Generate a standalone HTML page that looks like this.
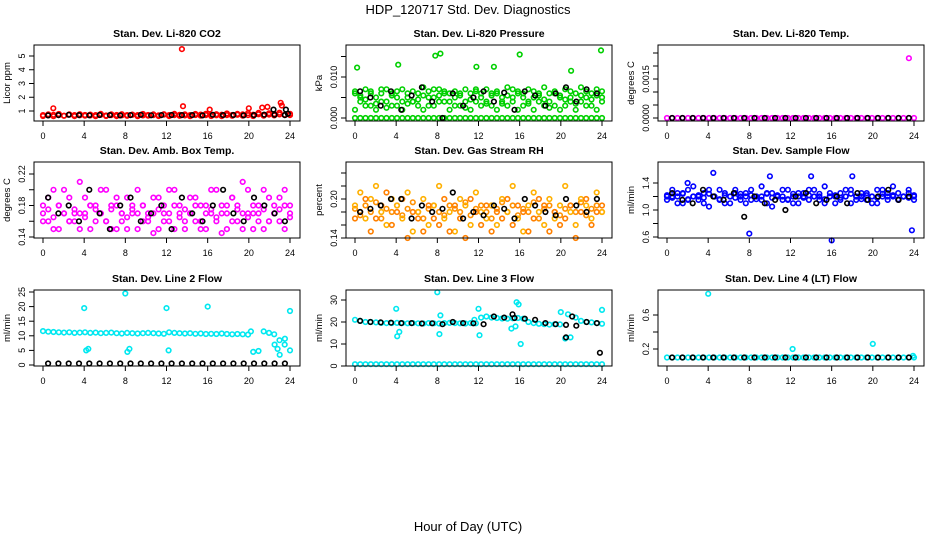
<!DOCTYPE html>
<html><head><meta charset="utf-8"><style>
body{margin:0;background:#fff;}
svg{display:block;font-family:"Liberation Sans",sans-serif;}
</style></head><body>
<svg id="c" width="936" height="540">
<text x="468" y="14" text-anchor="middle" font-size="13">HDP_120717  Std. Dev. Diagnostics</text>
<text x="468" y="531" text-anchor="middle" font-size="13">Hour of Day (UTC)</text>
</svg>
<script>
// ---- data ----
const xTicks=[0,4,8,12,16,20,24];
// P1 CO2
const co2Red=[0.7,0.68,0.72,0.7,0.66,0.73,0.7,0.69,0.71,0.68,0.7,0.72,0.67,0.7,0.71,0.69,0.7,0.72,0.7,0.68,0.71,0.7,0.69,0.73,0.7,0.7,0.72,0.68,0.7,0.71,0.74,0.7,0.72,0.69,0.73,0.7,0.71,0.72,0.75,0.7,0.73,0.76,0.72,0.74,0.78,0.75,0.72,0.7];
const co2Red2=[0.64,0.76,0.62,0.78,0.65,0.75,0.63,0.77,0.66,0.74,0.62,0.79,0.64,0.76,0.63,0.77,0.65,0.74,0.62,0.78,0.66,0.75,0.64,0.77,0.63,0.79,0.65,0.76,0.62,0.78,0.66,0.8,0.64,0.77,0.63,0.82,0.65,0.79,0.66,0.84,0.64,0.86,0.66,0.83,0.68,0.88,0.7,0.8];
const co2RedOutH=[1,13.5,13.6,16.2,20,21.3,21.8,23.1,23.2];
const co2RedOutV=[1.2,5.5,1.35,1.1,1.2,1.25,1.3,1.6,1.4];
const co2Black=[0.68,0.7,0.72,0.7,0.69,0.71,0.7,0.68,0.7,0.72,0.69,0.7,0.71,0.7,0.7,0.68,0.72,0.7,0.71,0.69,0.7,0.73,0.72,0.7];
const co2BlackOutH=[22.4,23.6,23.8];
const co2BlackOutV=[1.1,1.1,0.8];
// P2 pressure
const presA=[0.006,0.004,0.007,0.003,0.005,0.007,0.004,0.006,0.003,0.007,0.005,0.004,0.006,0.0075,0.003,0.005,0.007,0.004,0.006,0.005,0.003,0.007,0.006,0.004,0.005,0.007,0.003,0.006,0.004,0.0075,0.005,0.006,0.003,0.007,0.005,0.004,0.0075,0.006,0.003,0.005,0.007,0.004,0.006,0.0075,0.005,0.003,0.007,0.005];
const presB=[0.002,0.005,0.003,0.006,0.002,0.004,0.007,0.003,0.005,0.002,0.006,0.004,0.003,0.002,0.005,0.007,0.004,0.006,0.002,0.003,0.006,0.004,0.002,0.007,0.003,0.004,0.006,0.002,0.005,0.003,0.007,0.002,0.005,0.004,0.002,0.006,0.003,0.004,0.006,0.002,0.003,0.005,0.002,0.004,0.003,0.006,0.002,0.004];
const presC=[0.0065,0.0055,0.0045,0.0065,0.0035,0.006,0.0025,0.0055,0.0065,0.004,0.0035,0.0065,0.0045,0.0055,0.0065,0.003,0.0055,0.0065,0.004,0.0065,0.0055,0.0025,0.0045,0.0065,0.006,0.0035,0.0055,0.0065,0.0035,0.0055,0.004,0.0065,0.006,0.0035,0.0065,0.0055,0.0045,0.0025,0.0065,0.0055,0.0045,0.0065,0.0035,0.0055,0.0065,0.0045,0.0055,0.0065];
const presZero=[0,0,0,0,0,0,0,0,0,0,0,0,0,0,0,0,0,0,0,0,0,0,0,0,0,0,0,0,0,0,0,0,0,0,0,0,0,0,0,0,0,0,0,0,0,0,0,0];
const presOutH=[0.2,4.2,7.8,8.3,11.8,13.5,16,21,23.9];
const presOutV=[0.0123,0.013,0.0152,0.0157,0.0125,0.0125,0.0155,0.0115,0.0165];
const presBlack=[0.0065,0.005,0.003,0.0065,0.002,0.0055,0.0075,0.004,0,0.006,0.003,0.005,0.0065,0.004,0.0062,0.002,0.0065,0.0055,0.003,0.006,0.0075,0.004,0.007,0.006];
// P3 temp
const tempMag=[0,0,0,0,0,0,0,0,0,0,0,0,0,0,0,0,0,0,0,0,0,0,0,0,0,0,0,0,0,0,0,0,0,0,0,0,0,0,0,0,0,0,0,0,0,0,0,0];
const tempOutH=[23.5];
const tempOutV=[0.0023];
const tempBlack=[0,0,0,0,0,0,0,0,0,0,0,0,0,0,0,0,0,0,0,0,0,0,0,0];
// P4 amb box temp
const ambA=[.18,.16,.20,.15,.17,.19,.16,.21,.17,.15,.18,.20,.16,.15,.19,.17,.15,.18,.20,.16,.17,.19,.15,.18,.16,.20,.17,.15,.19,.18,.16,.15,.17,.20,.18,.15,.19,.16,.21,.17,.15,.18,.20,.16,.17,.19,.15,.18];
const ambB=[.16,.19,.15,.18,.20,.16,.17,.15,.19,.18,.16,.17,.20,.18,.15,.16,.19,.17,.15,.18,.16,.145,.19,.17,.20,.15,.18,.16,.17,.19,.15,.18,.20,.16,.145,.17,.19,.18,.15,.20,.17,.16,.15,.19,.18,.16,.20,.17];
const ambC=[.17,.175,.165,.18,.17,.16,.175,.17,.165,.18,.175,.17,.16,.175,.18,.17,.165,.175,.17,.18,.165,.17,.175,.16,.17,.18,.165,.175,.17,.16,.18,.17,.175,.165,.17,.18,.16,.175,.17,.165,.18,.17,.175,.16,.17,.175,.18,.165];
const ambBlack=[.19,.17,.18,.16,.20,.17,.15,.18,.19,.16,.17,.18,.15,.19,.17,.16,.18,.20,.17,.16,.19,.18,.17,.16];
// P5 RH
const rhA=[.19,.21,.17,.20,.22,.18,.16,.20,.19,.17,.21,.15,.18,.20,.16,.19,.22,.17,.18,.15,.20,.19,.16,.21,.18,.17,.19,.16,.20,.18,.22,.17,.15,.19,.21,.18,.16,.20,.17,.19,.22,.18,.16,.20,.19,.17,.21,.18];
const rhB=[.17,.18,.20,.15,.17,.19,.21,.16,.18,.20,.14,.18,.17,.15,.19,.17,.16,.20,.15,.19,.17,.14,.20,.18,.16,.19,.15,.18,.17,.20,.16,.19,.18,.15,.17,.20,.19,.15,.18,.16,.17,.19,.14,.18,.20,.16,.18,.19];
const rhC=[.185,.175,.19,.18,.195,.17,.185,.18,.19,.175,.185,.195,.18,.17,.185,.19,.18,.175,.19,.185,.18,.195,.175,.185,.19,.18,.17,.185,.195,.18,.19,.175,.185,.18,.195,.17,.185,.19,.18,.175,.185,.19,.18,.195,.175,.185,.19,.18];
const rhBlack=[.18,.185,.19,.20,.20,.17,.19,.18,.185,.21,.17,.18,.175,.19,.185,.17,.20,.19,.18,.175,.20,.19,.18,.20];
// P6 sample flow
const sfA=[1.2,1.3,1.1,1.25,1.15,1.35,1.2,1.1,1.3,1.2,1.15,1.25,1.1,1.3,1.2,1.25,1.15,1.2,1.35,1.1,1.25,1.2,1.3,1.15,1.2,1.1,1.25,1.3,1.2,1.15,1.35,1.2,1.1,1.25,1.2,1.3,1.15,1.2,1.25,1.1,1.3,1.2,1.15,1.35,1.25,1.2,1.3,1.15];
const sfB=[1.15,1.2,1.25,1.1,1.3,1.2,1.15,1.25,1.05,1.2,1.3,1.1,1.2,1.25,1.15,1.1,1.3,1.2,1.15,1.25,1.05,1.2,1.15,1.3,1.1,1.25,1.2,1.15,1.3,1.2,1.1,1.25,1.2,1.15,1.3,1.1,1.2,1.25,1.15,1.2,1.1,1.3,1.25,1.2,1.15,1.2,1.25,1.2];
const sfC=[1.22,1.18,1.2,1.24,1.16,1.2,1.22,1.18,1.24,1.2,1.16,1.22,1.2,1.18,1.24,1.2,1.22,1.16,1.2,1.24,1.18,1.22,1.2,1.16,1.24,1.2,1.18,1.22,1.2,1.24,1.16,1.2,1.22,1.18,1.2,1.24,1.2,1.16,1.22,1.2,1.18,1.24,1.2,1.22,1.16,1.2,1.18,1.22];
const sfOutH=[4.5,8,16,23.8,10,14,18,2];
const sfOutV=[1.55,0.65,0.55,0.7,1.5,1.5,1.5,1.4];
const sfBlack=[1.25,1.15,1.1,1.3,1.2,1.15,1.25,0.9,1.2,1.1,1.15,1.0,1.2,1.25,1.1,1.15,1.2,1.1,1.25,1.15,1.2,1.3,1.15,1.2];
// P7 line 2
const l2Cyan=[11.6,11.4,11.3,11.2,11.1,11.2,11.0,11.1,11.2,11.0,11.1,10.9,11.0,11.1,10.9,10.8,11.0,10.9,10.8,10.9,11.0,10.9,10.8,10.7,11.2,11.0,10.9,10.8,10.9,10.7,10.8,10.6,10.7,10.6,10.8,10.6,10.5,10.6,10.5,10.4,4.5,4.8,11.5,11,10.5,8.5,7,5];
const l2OutH=[4,4.2,4.4,8,8.2,8.4,12,12.2,16,20.2,22.5,23,23.5,24,22.8];
const l2OutV=[19.5,5,5.5,24.5,4.5,5.5,19.5,5,20,11.5,7,3.5,9,18.5,5.5];
const l2Black=[0.5,0.5,0.5,0.5,0.5,0.5,0.5,0.5,0.5,0.5,0.5,0.5,0.5,0.5,0.5,0.5,0.5,0.5,0.5,0.5,0.5,0.5,0.5,0.5];
// P8 line 3
const l3CyanLow=[0.8,0.8,0.8,0.8,0.8,0.8,0.8,0.8,0.8,0.8,0.8,0.8,0.8,0.8,0.8,0.8,0.8,0.8,0.8,0.8,0.8,0.8,0.8,0.8,0.8,0.8,0.8,0.8,0.8,0.8,0.8,0.8,0.8,0.8,0.8,0.8,0.8,0.8,0.8,0.8,0.8,0.8,0.8,0.8,0.8,0.8,0.8,0.8];
const l3Cyan=[21,20.5,20,20,19.8,19.6,19.5,19.5,19.6,19.5,19.4,19.5,19.4,19.3,19.5,19.4,19.3,19.5,19.6,19.5,19.4,19.3,19.5,19.4,22,22.5,22,21.8,21.6,21.5,21.7,21.8,21.5,20,19.5,19.2,19,18.8,19,18.9,12.5,13,22,20.5,20,19.8,19.5,19.2];
const l3OutH=[4,4.1,4.3,8,8.2,8.3,12,12.1,11.6,15.7,15.9,16.1,20,20.7,24,15.2,15.6];
const l3OutV=[26,13.5,15.5,33.5,14.5,23,26,14,21,29,28,10,24.5,23.5,25.5,17,18];
const l3Black=[20.5,20,19.8,19.7,19.5,19.5,19.3,19.4,19,20,19.5,19.4,19,22.5,22,21.8,21.5,21,19.5,19,18.7,18.3,20,19.5];
const l3BlackOutH=[20.5,21.1,23.8,15.3];
const l3BlackOutV=[13,22.5,6,23.5];
// P9 line 4
const l4Cyan=[0.1,0.1,0.1,0.1,0.1,0.1,0.1,0.1,0.1,0.1,0.1,0.1,0.1,0.1,0.1,0.1,0.1,0.1,0.1,0.1,0.1,0.1,0.1,0.1,0.1,0.1,0.1,0.1,0.1,0.1,0.1,0.1,0.1,0.1,0.1,0.1,0.1,0.1,0.1,0.1,0.1,0.1,0.1,0.1,0.1,0.1,0.1,0.1];
const l4OutH=[4,12.2,20,23.9];
const l4OutV=[0.85,0.2,0.26,0.12];
const l4Black=[0.1,0.1,0.1,0.1,0.1,0.1,0.1,0.1,0.1,0.1,0.1,0.1,0.1,0.1,0.1,0.1,0.1,0.1,0.1,0.1,0.1,0.1,0.1,0.1];

const NS='http://www.w3.org/2000/svg';
const svg=document.getElementById('c');
function mk(tag,attrs,parent){const e=document.createElementNS(NS,tag);for(const k in attrs)e.setAttribute(k,attrs[k]);(parent||svg).appendChild(e);return e;}

const panels=[
 {name:'co2',title:'Stan. Dev. Li-820 CO2',yl:'Licor ppm',col:0,row:0,ref:[1,111,5,56],ticks:[1,2,3,4,5],labels:['1','2','3','4','5'],
  series:[{v:co2Red2,c:'red'},{v:co2Red,c:'red'},{h:co2RedOutH,v:co2RedOutV,c:'red'},{v:co2Black,c:'black'},{h:co2BlackOutH,v:co2BlackOutV,c:'black'}]},
 {name:'pressure',title:'Stan. Dev. Li-820 Pressure',yl:'kPa',col:1,row:0,ref:[0,118,0.01,77],ticks:[0,0.005,0.01,0.015],labels:['0.000','','0.010',''],
  series:[{v:presZero,c:'#00d000'},{v:presA,c:'#00d000'},{v:presB,c:'#00d000'},{v:presC,c:'#00d000'},{h:presOutH,v:presOutV,c:'#00d000'},{v:presBlack,c:'black'}]},
 {name:'temp',title:'Stan. Dev. Li-820 Temp.',yl:'degrees C',col:2,row:0,ref:[0,118,0.0015,79],ticks:[0,0.0005,0.001,0.0015,0.002,0.0025],labels:['0.0000','','','0.0015','',''],
  series:[{v:tempMag,c:'magenta'},{h:tempOutH,v:tempOutV,c:'magenta'},{v:tempBlack,c:'black'}]},
 {name:'amb-temp',title:'Stan. Dev. Amb. Box Temp.',yl:'degrees C',col:0,row:1,ref:[0.14,237,0.22,174],ticks:[0.14,0.16,0.18,0.2,0.22],labels:['0.14','','0.18','','0.22'],
  series:[{v:ambC,c:'magenta'},{v:ambA,c:'magenta'},{v:ambB,c:'magenta'},{v:ambBlack,c:'black'}]},
 {name:'rh',title:'Stan. Dev. Gas Stream RH',yl:'percent',col:1,row:1,ref:[0.14,238,0.2,199],ticks:[0.14,0.16,0.18,0.2,0.22,0.24],labels:['0.14','','','0.20','',''],
  series:[{v:rhC,c:'#ff9000'},{v:rhA,c:'#ffb000'},{v:rhB,c:'#ff8000'},{v:rhBlack,c:'black'}]},
 {name:'sample-flow',title:'Stan. Dev. Sample Flow',yl:'ml/min',col:2,row:1,ref:[0.6,237,1.4,183],ticks:[0.6,0.8,1.0,1.2,1.4],labels:['0.6','','1.0','','1.4'],
  series:[{v:sfC,c:'blue'},{v:sfA,c:'blue'},{v:sfB,c:'blue'},{h:sfOutH,v:sfOutV,c:'blue'},{v:sfBlack,c:'black'}]},
 {name:'line2',title:'Stan. Dev. Line 2 Flow',yl:'ml/min',col:0,row:2,ref:[0,365,25,292],ticks:[0,5,10,15,20,25],labels:['0','5','10','15','20','25'],
  series:[{v:l2Cyan,c:'#00e8f0'},{h:l2OutH,v:l2OutV,c:'#00e8f0'},{v:l2Black,c:'black'}]},
 {name:'line3',title:'Stan. Dev. Line 3 Flow',yl:'ml/min',col:1,row:2,ref:[0,366,30,300],ticks:[0,10,20,30],labels:['0','10','20','30'],
  series:[{v:l3CyanLow,c:'#00e8f0'},{v:l3Cyan,c:'#00e8f0'},{h:l3OutH,v:l3OutV,c:'#00e8f0'},{v:l3Black,c:'black'},{h:l3BlackOutH,v:l3BlackOutV,c:'black'}]},
 {name:'line4',title:'Stan. Dev. Line 4 (LT) Flow',yl:'ml/min',col:2,row:2,ref:[0.2,349,0.6,315],ticks:[0.2,0.4,0.6],labels:['0.2','','0.6'],
  series:[{v:l4Cyan,c:'#00e8f0'},{h:l4OutH,v:l4OutV,c:'#00e8f0'},{v:l4Black,c:'black'}]},
];
const colX=[34,346,658], rowY=[45,162,290], W=266, H=76;

panels.forEach(p=>{
  const bx=colX[p.col], by=rowY[p.row];
  const g=mk('g',{});
  
  
  const xs=h=>bx+9+h/24*247;
  const [v1,p1,v2,p2]=p.ref;
  const ys=v=>p1+(v-v1)*(p2-p1)/(v2-v1);
  const t=mk('text',{x:bx+W/2,y:by-8,'text-anchor':'middle','font-size':'10.5','font-weight':'bold'},g);
  t.textContent=p.title;
  
  
  const pg=mk('g',{fill:'none','stroke-width':'1.6'},g);
  p.series.forEach(s=>{
    const n=s.v.length;
    s.v.forEach((v,i)=>{
      const h=s.h?s.h[i]:(s.c==='black'?i+0.5:i*24/(n-1));
      const c=mk('circle',{cx:xs(h).toFixed(1),cy:ys(v).toFixed(1),r:2.3,stroke:s.c},pg);
      
      
    });
  });
  const r=mk('rect',{x:bx,y:by,width:W,height:H,fill:'none',stroke:'black','stroke-width':1},g);
  
  
  xTicks.forEach(h=>{
    mk('line',{x1:xs(h),x2:xs(h),y1:by+H,y2:by+H+5,stroke:'black'},g);
    const l=mk('text',{x:xs(h),y:by+H+18,'text-anchor':'middle','font-size':'9'},g);
    l.textContent=h;
    
    
  });
  p.ticks.forEach((v,i)=>{
    const y=ys(v);
    mk('line',{x1:bx-5,x2:bx,y1:y,y2:y,stroke:'black'},g);
    if(p.labels[i]){
      const l=mk('text',{x:bx-9,y:y,'text-anchor':'middle','font-size':'9',transform:`rotate(-90 ${bx-9} ${y})`},g);
      l.textContent=p.labels[i];
      
      
    }
  });
  const yt=mk('text',{x:bx-24,y:by+H/2,'text-anchor':'middle','font-size':'9.5',transform:`rotate(-90 ${bx-24} ${by+H/2})`},g);
  yt.textContent=p.yl;
  
  
});
</script>
</body></html>
